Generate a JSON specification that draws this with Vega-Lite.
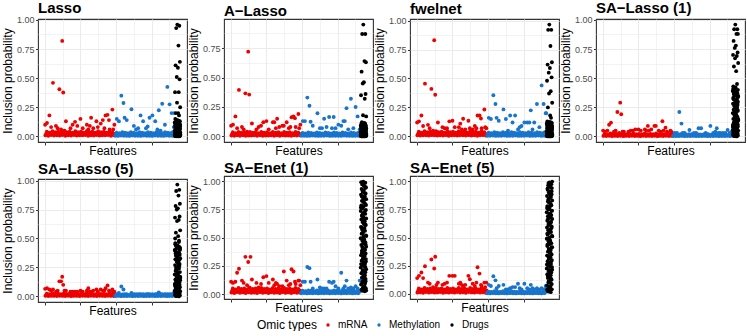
{
"$schema":"https://vega.github.io/schema/vega-lite/v6.json",
"padding":0,
"data":{"values":[
{"x":4,"t":"mRNA","a":0.01,"b":0.008,"c":0.01,"d":0.004,"e":0.005,"f":0.015,"g":0.012},
{"x":24,"t":"mRNA","a":0.006,"b":0.005,"c":0.007,"d":0.003,"e":0.003,"f":0.01,"g":0.014},
{"x":44,"t":"mRNA","a":0.012,"b":0.01,"c":0.009,"d":0.005,"e":0.004,"f":0.018,"g":0.01},
{"x":64,"t":"mRNA","a":0.008,"b":0.006,"c":0.01,"d":0.002,"e":0.004,"f":0.012,"g":0.016},
{"x":84,"t":"mRNA","a":0.01,"b":0.009,"c":0.008,"d":0.004,"e":0.003,"f":0.016,"g":0.012},
{"x":104,"t":"mRNA","a":0.007,"b":0.006,"c":0.011,"d":0.003,"e":0.005,"f":0.011,"g":0.015},
{"x":124,"t":"mRNA","a":0.011,"b":0.008,"c":0.009,"d":0.005,"e":0.004,"f":0.017,"g":0.011},
{"x":144,"t":"mRNA","a":0.006,"b":0.007,"c":0.007,"d":0.002,"e":0.003,"f":0.013,"g":0.013},
{"x":164,"t":"mRNA","a":0.01,"b":0.009,"c":0.01,"d":0.004,"e":0.005,"f":0.015,"g":0.016},
{"x":184,"t":"mRNA","a":0.008,"b":0.005,"c":0.008,"d":0.003,"e":0.002,"f":0.01,"g":0.01},
{"x":204,"t":"mRNA","a":0.012,"b":0.01,"c":0.011,"d":0.005,"e":0.004,"f":0.018,"g":0.014},
{"x":224,"t":"mRNA","a":0.007,"b":0.006,"c":0.006,"d":0.003,"e":0.004,"f":0.012,"g":0.012},
{"x":244,"t":"mRNA","a":0.01,"b":0.008,"c":0.01,"d":0.004,"e":0.003,"f":0.016,"g":0.015},
{"x":264,"t":"mRNA","a":0.009,"b":0.007,"c":0.009,"d":0.002,"e":0.005,"f":0.011,"g":0.011},
{"x":284,"t":"mRNA","a":0.011,"b":0.009,"c":0.008,"d":0.005,"e":0.004,"f":0.017,"g":0.016},
{"x":304,"t":"mRNA","a":0.006,"b":0.006,"c":0.01,"d":0.003,"e":0.003,"f":0.013,"g":0.012},
{"x":324,"t":"mRNA","a":0.01,"b":0.01,"c":0.009,"d":0.004,"e":0.005,"f":0.015,"g":0.014},
{"x":344,"t":"mRNA","a":0.008,"b":0.005,"c":0.007,"d":0.003,"e":0.004,"f":0.01,"g":0.01},
{"x":364,"t":"mRNA","a":0.012,"b":0.009,"c":0.011,"d":0.005,"e":0.003,"f":0.018,"g":0.016},
{"x":384,"t":"mRNA","a":0.007,"b":0.007,"c":0.008,"d":0.002,"e":0.005,"f":0.012,"g":0.013},
{"x":404,"t":"mRNA","a":0.01,"b":0.008,"c":0.01,"d":0.004,"e":0.004,"f":0.016,"g":0.011},
{"x":424,"t":"mRNA","a":0.009,"b":0.006,"c":0.006,"d":0.003,"e":0.003,"f":0.011,"g":0.015},
{"x":444,"t":"mRNA","a":0.011,"b":0.01,"c":0.009,"d":0.005,"e":0.005,"f":0.017,"g":0.012},
{"x":464,"t":"mRNA","a":0.006,"b":0.008,"c":0.011,"d":0.003,"e":0.004,"f":0.013,"g":0.014},
{"x":484,"t":"mRNA","a":0.01,"b":0.009,"c":0.008,"d":0.004,"e":0.003,"f":0.015,"g":0.01},
{"x":9,"t":"mRNA","a":0.022,"b":0.02,"c":0.023,"d":0.012,"e":0.013,"f":0.03,"g":0.028},
{"x":29,"t":"mRNA","a":0.025,"b":0.021,"c":0.02,"d":0.011,"e":0.012,"f":0.033,"g":0.03},
{"x":49,"t":"mRNA","a":0.02,"b":0.018,"c":0.024,"d":0.013,"e":0.014,"f":0.028,"g":0.027},
{"x":69,"t":"mRNA","a":0.024,"b":0.022,"c":0.022,"d":0.012,"e":0.012,"f":0.032,"g":0.031},
{"x":89,"t":"mRNA","a":0.021,"b":0.019,"c":0.021,"d":0.011,"e":0.013,"f":0.029,"g":0.026},
{"x":109,"t":"mRNA","a":0.023,"b":0.02,"c":0.025,"d":0.013,"e":0.014,"f":0.031,"g":0.029},
{"x":129,"t":"mRNA","a":0.022,"b":0.021,"c":0.02,"d":0.012,"e":0.012,"f":0.03,"g":0.03},
{"x":149,"t":"mRNA","a":0.025,"b":0.018,"c":0.023,"d":0.011,"e":0.013,"f":0.033,"g":0.027},
{"x":169,"t":"mRNA","a":0.02,"b":0.022,"c":0.022,"d":0.013,"e":0.014,"f":0.028,"g":0.031},
{"x":189,"t":"mRNA","a":0.024,"b":0.019,"c":0.024,"d":0.012,"e":0.012,"f":0.032,"g":0.028},
{"x":209,"t":"mRNA","a":0.021,"b":0.02,"c":0.021,"d":0.011,"e":0.013,"f":0.029,"g":0.03},
{"x":229,"t":"mRNA","a":0.023,"b":0.021,"c":0.025,"d":0.013,"e":0.014,"f":0.031,"g":0.026},
{"x":249,"t":"mRNA","a":0.022,"b":0.018,"c":0.02,"d":0.012,"e":0.012,"f":0.03,"g":0.029},
{"x":269,"t":"mRNA","a":0.025,"b":0.022,"c":0.023,"d":0.011,"e":0.013,"f":0.033,"g":0.031},
{"x":289,"t":"mRNA","a":0.02,"b":0.019,"c":0.022,"d":0.013,"e":0.014,"f":0.028,"g":0.027},
{"x":309,"t":"mRNA","a":0.024,"b":0.02,"c":0.024,"d":0.012,"e":0.012,"f":0.032,"g":0.03},
{"x":329,"t":"mRNA","a":0.021,"b":0.021,"c":0.021,"d":0.011,"e":0.013,"f":0.029,"g":0.028},
{"x":349,"t":"mRNA","a":0.023,"b":0.018,"c":0.025,"d":0.013,"e":0.014,"f":0.031,"g":0.031},
{"x":369,"t":"mRNA","a":0.022,"b":0.022,"c":0.02,"d":0.012,"e":0.012,"f":0.03,"g":0.026},
{"x":389,"t":"mRNA","a":0.025,"b":0.019,"c":0.023,"d":0.011,"e":0.013,"f":0.033,"g":0.029},
{"x":409,"t":"mRNA","a":0.02,"b":0.02,"c":0.022,"d":0.013,"e":0.014,"f":0.028,"g":0.03},
{"x":429,"t":"mRNA","a":0.024,"b":0.021,"c":0.024,"d":0.012,"e":0.012,"f":0.032,"g":0.027},
{"x":449,"t":"mRNA","a":0.021,"b":0.018,"c":0.021,"d":0.011,"e":0.013,"f":0.029,"g":0.031},
{"x":469,"t":"mRNA","a":0.023,"b":0.022,"c":0.025,"d":0.013,"e":0.014,"f":0.031,"g":0.028},
{"x":489,"t":"mRNA","a":0.022,"b":0.019,"c":0.02,"d":0.012,"e":0.012,"f":0.03,"g":0.03},
{"x":14,"t":"mRNA","a":0.04,"b":0.035,"c":0.04,"d":0.022,"e":0.024,"f":0.05,"g":0.048},
{"x":34,"t":"mRNA","a":0.032,"b":0.028,"c":0.033,"d":0.018,"e":0.02,"f":0.042,"g":0.04},
{"x":54,"t":"mRNA","a":0.045,"b":0.038,"c":0.044,"d":0.025,"e":0.027,"f":0.055,"g":0.052},
{"x":74,"t":"mRNA","a":0.036,"b":0.032,"c":0.036,"d":0.02,"e":0.022,"f":0.046,"g":0.044},
{"x":94,"t":"mRNA","a":0.04,"b":0.035,"c":0.04,"d":0.022,"e":0.024,"f":0.05,"g":0.048},
{"x":114,"t":"mRNA","a":0.032,"b":0.028,"c":0.033,"d":0.018,"e":0.02,"f":0.042,"g":0.04},
{"x":134,"t":"mRNA","a":0.045,"b":0.038,"c":0.044,"d":0.025,"e":0.027,"f":0.055,"g":0.052},
{"x":154,"t":"mRNA","a":0.036,"b":0.032,"c":0.036,"d":0.02,"e":0.022,"f":0.046,"g":0.044},
{"x":174,"t":"mRNA","a":0.04,"b":0.035,"c":0.04,"d":0.022,"e":0.024,"f":0.05,"g":0.048},
{"x":194,"t":"mRNA","a":0.032,"b":0.028,"c":0.033,"d":0.018,"e":0.02,"f":0.042,"g":0.04},
{"x":214,"t":"mRNA","a":0.045,"b":0.038,"c":0.044,"d":0.025,"e":0.027,"f":0.055,"g":0.052},
{"x":234,"t":"mRNA","a":0.036,"b":0.032,"c":0.036,"d":0.02,"e":0.022,"f":0.046,"g":0.044},
{"x":254,"t":"mRNA","a":0.04,"b":0.035,"c":0.04,"d":0.022,"e":0.024,"f":0.05,"g":0.048},
{"x":274,"t":"mRNA","a":0.032,"b":0.028,"c":0.033,"d":0.018,"e":0.02,"f":0.042,"g":0.04},
{"x":294,"t":"mRNA","a":0.045,"b":0.038,"c":0.044,"d":0.025,"e":0.027,"f":0.055,"g":0.052},
{"x":314,"t":"mRNA","a":0.036,"b":0.032,"c":0.036,"d":0.02,"e":0.022,"f":0.046,"g":0.044},
{"x":334,"t":"mRNA","a":0.04,"b":0.035,"c":0.04,"d":0.022,"e":0.024,"f":0.05,"g":0.048},
{"x":354,"t":"mRNA","a":0.032,"b":0.028,"c":0.033,"d":0.018,"e":0.02,"f":0.042,"g":0.04},
{"x":374,"t":"mRNA","a":0.045,"b":0.038,"c":0.044,"d":0.025,"e":0.027,"f":0.055,"g":0.052},
{"x":394,"t":"mRNA","a":0.036,"b":0.032,"c":0.036,"d":0.02,"e":0.022,"f":0.046,"g":0.044},
{"x":414,"t":"mRNA","a":0.04,"b":0.035,"c":0.04,"d":0.022,"e":0.024,"f":0.05,"g":0.048},
{"x":434,"t":"mRNA","a":0.032,"b":0.028,"c":0.033,"d":0.018,"e":0.02,"f":0.042,"g":0.04},
{"x":454,"t":"mRNA","a":0.045,"b":0.038,"c":0.044,"d":0.025,"e":0.027,"f":0.055,"g":0.052},
{"x":474,"t":"mRNA","a":0.036,"b":0.032,"c":0.036,"d":0.02,"e":0.022,"f":0.046,"g":0.044},
{"x":122,"t":"mRNA","a":0.82,"b":0.72,"c":0.83,"d":0.29,"e":0.17,"f":0.285,"g":0.225},
{"x":57,"t":"mRNA","a":0.46,"b":0.395,"c":0.455,"d":0.118,"e":0.06,"f":0.225,"g":0.245},
{"x":102,"t":"mRNA","a":0.405,"b":0.366,"c":0.41,"d":0.21,"e":0.13,"f":0.33,"g":0.305},
{"x":129,"t":"mRNA","a":0.377,"b":0.355,"c":0.36,"d":0.19,"e":0.1,"f":0.06,"g":0.33},
{"x":138,"t":"mRNA","a":0.05,"b":0.03,"c":0.04,"d":0.04,"e":0.05,"f":0.33,"g":0.08},
{"x":114,"t":"mRNA","a":0.06,"b":0.04,"c":0.05,"d":0.03,"e":0.13,"f":0.08,"g":0.06},
{"x":32,"t":"mRNA","a":0.18,"b":0.17,"c":0.18,"d":0.05,"e":0.06,"f":0.11,"g":0.19},
{"x":2,"t":"mRNA","a":0.1,"b":0.09,"c":0.12,"d":0.05,"e":0.065,"f":0.11,"g":0.14},
{"x":15,"t":"mRNA","a":0.115,"b":0.1,"c":0.13,"d":0.04,"e":0.07,"f":0.1,"g":0.16},
{"x":44,"t":"mRNA","a":0.08,"b":0.07,"c":0.09,"d":0.1,"e":0.05,"f":0.19,"g":0.14},
{"x":148,"t":"mRNA","a":0.13,"b":0.11,"c":0.12,"d":0.04,"e":0.05,"f":0.13,"g":0.1},
{"x":212,"t":"mRNA","a":0.125,"b":0.09,"c":0.07,"d":0.05,"e":0.04,"f":0.09,"g":0.1},
{"x":228,"t":"mRNA","a":0.09,"b":0.12,"c":0.13,"d":0.06,"e":0.04,"f":0.15,"g":0.16},
{"x":250,"t":"mRNA","a":0.15,"b":0.13,"c":0.135,"d":0.06,"e":0.05,"f":0.16,"g":0.16},
{"x":266,"t":"mRNA","a":0.07,"b":0.06,"c":0.08,"d":0.05,"e":0.04,"f":0.1,"g":0.16},
{"x":295,"t":"mRNA","a":0.1,"b":0.12,"c":0.08,"d":0.06,"e":0.05,"f":0.13,"g":0.09},
{"x":305,"t":"mRNA","a":0.06,"b":0.12,"c":0.11,"d":0.05,"e":0.07,"f":0.08,"g":0.1},
{"x":316,"t":"mRNA","a":0.09,"b":0.07,"c":0.06,"d":0.09,"e":0.04,"f":0.1,"g":0.08},
{"x":325,"t":"mRNA","a":0.16,"b":0.15,"c":0.152,"d":0.05,"e":0.04,"f":0.09,"g":0.07},
{"x":362,"t":"mRNA","a":0.13,"b":0.09,"c":0.135,"d":0.09,"e":0.06,"f":0.07,"g":0.16},
{"x":372,"t":"mRNA","a":0.08,"b":0.09,"c":0.07,"d":0.09,"e":0.04,"f":0.2,"g":0.13},
{"x":392,"t":"mRNA","a":0.11,"b":0.12,"c":0.06,"d":0.05,"e":0.06,"f":0.12,"g":0.09},
{"x":407,"t":"mRNA","a":0.14,"b":0.07,"c":0.09,"d":0.04,"e":0.05,"f":0.08,"g":0.07},
{"x":418,"t":"mRNA","a":0.07,"b":0.08,"c":0.07,"d":0.13,"e":0.05,"f":0.09,"g":0.1},
{"x":426,"t":"mRNA","a":0.18,"b":0.163,"c":0.18,"d":0.05,"e":0.07,"f":0.22,"g":0.237},
{"x":440,"t":"mRNA","a":0.185,"b":0.17,"c":0.18,"d":0.075,"e":0.095,"f":0.2,"g":0.18},
{"x":450,"t":"mRNA","a":0.14,"b":0.155,"c":0.155,"d":0.04,"e":0.05,"f":0.11,"g":0.08},
{"x":474,"t":"mRNA","a":0.23,"b":0.19,"c":0.232,"d":0.05,"e":0.06,"f":0.12,"g":0.1},
{"x":455,"t":"mRNA","a":0.06,"b":0.08,"c":0.07,"d":0.03,"e":0.04,"f":0.09,"g":0.07},
{"x":78,"t":"mRNA","a":0.09,"b":0.08,"c":0.1,"d":0.04,"e":0.04,"f":0.12,"g":0.1},
{"x":90,"t":"mRNA","a":0.07,"b":0.06,"c":0.07,"d":0.05,"e":0.05,"f":0.1,"g":0.09},
{"x":180,"t":"mRNA","a":0.07,"b":0.06,"c":0.08,"d":0.04,"e":0.04,"f":0.1,"g":0.08},
{"x":195,"t":"mRNA","a":0.1,"b":0.08,"c":0.07,"d":0.05,"e":0.04,"f":0.06,"g":0.09},
{"x":340,"t":"mRNA","a":0.07,"b":0.08,"c":0.06,"d":0.06,"e":0.05,"f":0.07,"g":0.08},
{"x":480,"t":"mRNA","a":0.06,"b":0.07,"c":0.08,"d":0.04,"e":0.04,"f":0.12,"g":0.06},
{"x":488,"t":"mRNA","a":0.1,"b":0.1,"c":0.07,"d":0.03,"e":0.04,"f":0.08,"g":0.1},
{"x":494,"t":"Methylation","a":0.006,"b":0.005,"c":0.006,"d":0.003,"e":0.003,"f":0.008,"g":0.005},
{"x":514,"t":"Methylation","a":0.004,"b":0.006,"c":0.005,"d":0.002,"e":0.004,"f":0.01,"g":0.004},
{"x":534,"t":"Methylation","a":0.007,"b":0.004,"c":0.007,"d":0.003,"e":0.002,"f":0.007,"g":0.006},
{"x":554,"t":"Methylation","a":0.005,"b":0.005,"c":0.004,"d":0.004,"e":0.003,"f":0.009,"g":0.005},
{"x":574,"t":"Methylation","a":0.006,"b":0.007,"c":0.006,"d":0.002,"e":0.003,"f":0.008,"g":0.004},
{"x":594,"t":"Methylation","a":0.004,"b":0.005,"c":0.005,"d":0.003,"e":0.004,"f":0.01,"g":0.006},
{"x":614,"t":"Methylation","a":0.007,"b":0.004,"c":0.007,"d":0.003,"e":0.002,"f":0.007,"g":0.005},
{"x":634,"t":"Methylation","a":0.005,"b":0.006,"c":0.004,"d":0.004,"e":0.003,"f":0.009,"g":0.004},
{"x":654,"t":"Methylation","a":0.006,"b":0.005,"c":0.006,"d":0.002,"e":0.003,"f":0.008,"g":0.006},
{"x":674,"t":"Methylation","a":0.004,"b":0.007,"c":0.005,"d":0.003,"e":0.004,"f":0.01,"g":0.005},
{"x":694,"t":"Methylation","a":0.007,"b":0.004,"c":0.007,"d":0.003,"e":0.002,"f":0.007,"g":0.004},
{"x":714,"t":"Methylation","a":0.005,"b":0.005,"c":0.004,"d":0.004,"e":0.003,"f":0.009,"g":0.006},
{"x":734,"t":"Methylation","a":0.006,"b":0.006,"c":0.006,"d":0.002,"e":0.003,"f":0.008,"g":0.005},
{"x":754,"t":"Methylation","a":0.004,"b":0.005,"c":0.005,"d":0.003,"e":0.004,"f":0.01,"g":0.004},
{"x":774,"t":"Methylation","a":0.007,"b":0.004,"c":0.007,"d":0.003,"e":0.002,"f":0.007,"g":0.006},
{"x":794,"t":"Methylation","a":0.005,"b":0.007,"c":0.004,"d":0.004,"e":0.003,"f":0.009,"g":0.005},
{"x":814,"t":"Methylation","a":0.006,"b":0.005,"c":0.006,"d":0.002,"e":0.003,"f":0.008,"g":0.004},
{"x":834,"t":"Methylation","a":0.004,"b":0.006,"c":0.005,"d":0.003,"e":0.004,"f":0.01,"g":0.006},
{"x":854,"t":"Methylation","a":0.007,"b":0.004,"c":0.007,"d":0.003,"e":0.002,"f":0.007,"g":0.005},
{"x":874,"t":"Methylation","a":0.005,"b":0.005,"c":0.004,"d":0.004,"e":0.003,"f":0.009,"g":0.004},
{"x":894,"t":"Methylation","a":0.006,"b":0.006,"c":0.006,"d":0.002,"e":0.003,"f":0.008,"g":0.006},
{"x":499,"t":"Methylation","a":0.018,"b":0.016,"c":0.018,"d":0.009,"e":0.008,"f":0.018,"g":0.012},
{"x":519,"t":"Methylation","a":0.02,"b":0.018,"c":0.016,"d":0.01,"e":0.009,"f":0.02,"g":0.013},
{"x":539,"t":"Methylation","a":0.016,"b":0.017,"c":0.019,"d":0.008,"e":0.008,"f":0.017,"g":0.011},
{"x":559,"t":"Methylation","a":0.019,"b":0.015,"c":0.017,"d":0.009,"e":0.009,"f":0.019,"g":0.012},
{"x":579,"t":"Methylation","a":0.017,"b":0.018,"c":0.018,"d":0.01,"e":0.008,"f":0.018,"g":0.013},
{"x":599,"t":"Methylation","a":0.018,"b":0.016,"c":0.02,"d":0.009,"e":0.009,"f":0.016,"g":0.011},
{"x":619,"t":"Methylation","a":0.02,"b":0.017,"c":0.016,"d":0.008,"e":0.008,"f":0.02,"g":0.012},
{"x":639,"t":"Methylation","a":0.016,"b":0.015,"c":0.018,"d":0.009,"e":0.009,"f":0.018,"g":0.013},
{"x":659,"t":"Methylation","a":0.019,"b":0.018,"c":0.017,"d":0.01,"e":0.008,"f":0.017,"g":0.011},
{"x":679,"t":"Methylation","a":0.017,"b":0.016,"c":0.019,"d":0.009,"e":0.009,"f":0.019,"g":0.012},
{"x":699,"t":"Methylation","a":0.018,"b":0.017,"c":0.018,"d":0.008,"e":0.008,"f":0.018,"g":0.013},
{"x":719,"t":"Methylation","a":0.02,"b":0.015,"c":0.02,"d":0.009,"e":0.009,"f":0.016,"g":0.011},
{"x":739,"t":"Methylation","a":0.016,"b":0.018,"c":0.016,"d":0.01,"e":0.008,"f":0.02,"g":0.012},
{"x":759,"t":"Methylation","a":0.019,"b":0.016,"c":0.018,"d":0.009,"e":0.009,"f":0.018,"g":0.013},
{"x":779,"t":"Methylation","a":0.017,"b":0.017,"c":0.017,"d":0.008,"e":0.008,"f":0.017,"g":0.011},
{"x":799,"t":"Methylation","a":0.018,"b":0.015,"c":0.019,"d":0.009,"e":0.009,"f":0.019,"g":0.012},
{"x":819,"t":"Methylation","a":0.02,"b":0.018,"c":0.018,"d":0.01,"e":0.008,"f":0.018,"g":0.013},
{"x":839,"t":"Methylation","a":0.016,"b":0.016,"c":0.02,"d":0.009,"e":0.009,"f":0.016,"g":0.011},
{"x":859,"t":"Methylation","a":0.019,"b":0.017,"c":0.016,"d":0.008,"e":0.008,"f":0.02,"g":0.012},
{"x":879,"t":"Methylation","a":0.017,"b":0.015,"c":0.018,"d":0.009,"e":0.009,"f":0.018,"g":0.013},
{"x":899,"t":"Methylation","a":0.018,"b":0.018,"c":0.017,"d":0.01,"e":0.008,"f":0.017,"g":0.011},
{"x":504,"t":"Methylation","a":0.032,"b":0.03,"c":0.032,"d":0.016,"e":0.015,"f":0.03,"g":0.02},
{"x":524,"t":"Methylation","a":0.028,"b":0.026,"c":0.028,"d":0.014,"e":0.013,"f":0.026,"g":0.018},
{"x":544,"t":"Methylation","a":0.036,"b":0.034,"c":0.036,"d":0.018,"e":0.016,"f":0.034,"g":0.023},
{"x":564,"t":"Methylation","a":0.032,"b":0.03,"c":0.032,"d":0.016,"e":0.015,"f":0.03,"g":0.02},
{"x":584,"t":"Methylation","a":0.028,"b":0.026,"c":0.028,"d":0.014,"e":0.013,"f":0.026,"g":0.018},
{"x":604,"t":"Methylation","a":0.036,"b":0.034,"c":0.036,"d":0.018,"e":0.016,"f":0.034,"g":0.023},
{"x":624,"t":"Methylation","a":0.032,"b":0.03,"c":0.032,"d":0.016,"e":0.015,"f":0.03,"g":0.02},
{"x":644,"t":"Methylation","a":0.028,"b":0.026,"c":0.028,"d":0.014,"e":0.013,"f":0.026,"g":0.018},
{"x":664,"t":"Methylation","a":0.036,"b":0.034,"c":0.036,"d":0.018,"e":0.016,"f":0.034,"g":0.023},
{"x":684,"t":"Methylation","a":0.032,"b":0.03,"c":0.032,"d":0.016,"e":0.015,"f":0.03,"g":0.02},
{"x":704,"t":"Methylation","a":0.028,"b":0.026,"c":0.028,"d":0.014,"e":0.013,"f":0.026,"g":0.018},
{"x":724,"t":"Methylation","a":0.036,"b":0.034,"c":0.036,"d":0.018,"e":0.016,"f":0.034,"g":0.023},
{"x":744,"t":"Methylation","a":0.032,"b":0.03,"c":0.032,"d":0.016,"e":0.015,"f":0.03,"g":0.02},
{"x":764,"t":"Methylation","a":0.028,"b":0.026,"c":0.028,"d":0.014,"e":0.013,"f":0.026,"g":0.018},
{"x":784,"t":"Methylation","a":0.036,"b":0.034,"c":0.036,"d":0.018,"e":0.016,"f":0.034,"g":0.023},
{"x":804,"t":"Methylation","a":0.032,"b":0.03,"c":0.032,"d":0.016,"e":0.015,"f":0.03,"g":0.02},
{"x":824,"t":"Methylation","a":0.028,"b":0.026,"c":0.028,"d":0.014,"e":0.013,"f":0.026,"g":0.018},
{"x":844,"t":"Methylation","a":0.036,"b":0.034,"c":0.036,"d":0.018,"e":0.016,"f":0.034,"g":0.023},
{"x":864,"t":"Methylation","a":0.032,"b":0.03,"c":0.032,"d":0.016,"e":0.015,"f":0.03,"g":0.02},
{"x":884,"t":"Methylation","a":0.028,"b":0.026,"c":0.028,"d":0.014,"e":0.013,"f":0.026,"g":0.018},
{"x":898,"t":"Methylation","a":0.036,"b":0.034,"c":0.036,"d":0.018,"e":0.016,"f":0.034,"g":0.023},
{"x":537,"t":"Methylation","a":0.35,"b":0.33,"c":0.355,"d":0.21,"e":0.085,"f":0.24,"g":0.157},
{"x":552,"t":"Methylation","a":0.287,"b":0.26,"c":0.28,"d":0.11,"e":0.06,"f":0.23,"g":0.12},
{"x":608,"t":"Methylation","a":0.233,"b":0.197,"c":0.233,"d":0.055,"e":0.03,"f":0.13,"g":0.08},
{"x":505,"t":"Methylation","a":0.15,"b":0.13,"c":0.16,"d":0.03,"e":0.02,"f":0.11,"g":0.08},
{"x":520,"t":"Methylation","a":0.13,"b":0.13,"c":0.15,"d":0.03,"e":0.03,"f":0.11,"g":0.07},
{"x":560,"t":"Methylation","a":0.16,"b":0.125,"c":0.16,"d":0.03,"e":0.02,"f":0.11,"g":0.05},
{"x":575,"t":"Methylation","a":0.14,"b":0.09,"c":0.135,"d":0.03,"e":0.02,"f":0.05,"g":0.07},
{"x":625,"t":"Methylation","a":0.09,"b":0.07,"c":0.15,"d":0.02,"e":0.02,"f":0.06,"g":0.04},
{"x":655,"t":"Methylation","a":0.07,"b":0.15,"c":0.18,"d":0.03,"e":0.02,"f":0.05,"g":0.05},
{"x":672,"t":"Methylation","a":0.18,"b":0.08,"c":0.12,"d":0.07,"e":0.02,"f":0.05,"g":0.06},
{"x":690,"t":"Methylation","a":0.13,"b":0.165,"c":0.18,"d":0.07,"e":0.02,"f":0.11,"g":0.06},
{"x":722,"t":"Methylation","a":0.085,"b":0.165,"c":0.08,"d":0.03,"e":0.02,"f":0.11,"g":0.05},
{"x":735,"t":"Methylation","a":0.16,"b":0.07,"c":0.09,"d":0.02,"e":0.02,"f":0.07,"g":0.04},
{"x":755,"t":"Methylation","a":0.18,"b":0.1,"c":0.12,"d":0.09,"e":0.02,"f":0.05,"g":0.09},
{"x":775,"t":"Methylation","a":0.13,"b":0.09,"c":0.12,"d":0.03,"e":0.02,"f":0.19,"g":0.05},
{"x":800,"t":"Methylation","a":0.225,"b":0.13,"c":0.225,"d":0.07,"e":0.035,"f":0.07,"g":0.08},
{"x":812,"t":"Methylation","a":0.05,"b":0.24,"c":0.06,"d":0.03,"e":0.02,"f":0.12,"g":0.05},
{"x":824,"t":"Methylation","a":0.28,"b":0.06,"c":0.12,"d":0.03,"e":0.02,"f":0.05,"g":0.04},
{"x":843,"t":"Methylation","a":0.1,"b":0.32,"c":0.28,"d":0.03,"e":0.02,"f":0.06,"g":0.05},
{"x":860,"t":"Methylation","a":0.425,"b":0.07,"c":0.08,"d":0.03,"e":0.02,"f":0.05,"g":0.04},
{"x":876,"t":"Methylation","a":0.275,"b":0.25,"c":0.44,"d":0.055,"e":0.02,"f":0.07,"g":0.05},
{"x":890,"t":"Methylation","a":0.2,"b":0.17,"c":0.28,"d":0.03,"e":0.02,"f":0.05,"g":0.04},
{"x":905,"t":"Methylation","a":0.08,"b":0.06,"c":0.2,"d":0.04,"e":0.03,"f":0.12,"g":0.07},
{"x":908,"t":"Methylation","a":0.2,"b":0.05,"c":0.2,"d":0.03,"e":0.02,"f":0.12,"g":0.06},
{"x":640,"t":"Methylation","a":0.06,"b":0.07,"c":0.05,"d":0.03,"e":0.02,"f":0.05,"g":0.04},
{"x":710,"t":"Methylation","a":0.07,"b":0.07,"c":0.06,"d":0.02,"e":0.02,"f":0.1,"g":0.09},
{"x":790,"t":"Methylation","a":0.06,"b":0.13,"c":0.12,"d":0.04,"e":0.02,"f":0.05,"g":0.04},
{"x":930,"t":"Drugs","a":0.96,"b":0.95,"c":0.965,"d":0.96,"e":0.965,"f":0.995,"g":0.99},
{"x":944,"t":"Drugs","a":0.95,"b":0.87,"c":0.92,"d":0.92,"e":0.92,"f":0.985,"g":0.975},
{"x":922,"t":"Drugs","a":0.93,"b":0.87,"c":0.92,"d":0.92,"e":0.91,"f":0.97,"g":0.965},
{"x":938,"t":"Drugs","a":0.78,"b":0.64,"c":0.78,"d":0.88,"e":0.87,"f":0.955,"g":0.95},
{"x":948,"t":"Drugs","a":0.64,"b":0.63,"c":0.64,"d":0.88,"e":0.8,"f":0.945,"g":0.94},
{"x":918,"t":"Drugs","a":0.61,"b":0.55,"c":0.62,"d":0.82,"e":0.78,"f":0.93,"g":0.925},
{"x":934,"t":"Drugs","a":0.59,"b":0.46,"c":0.59,"d":0.78,"e":0.76,"f":0.92,"g":0.91},
{"x":926,"t":"Drugs","a":0.51,"b":0.45,"c":0.55,"d":0.76,"e":0.75,"f":0.905,"g":0.9},
{"x":946,"t":"Drugs","a":0.49,"b":0.36,"c":0.51,"d":0.72,"e":0.69,"f":0.89,"g":0.885},
{"x":914,"t":"Drugs","a":0.38,"b":0.35,"c":0.48,"d":0.7,"e":0.68,"f":0.88,"g":0.87},
{"x":940,"t":"Drugs","a":0.38,"b":0.32,"c":0.39,"d":0.69,"e":0.66,"f":0.865,"g":0.86},
{"x":928,"t":"Drugs","a":0.29,"b":0.18,"c":0.37,"d":0.67,"e":0.65,"f":0.85,"g":0.845},
{"x":950,"t":"Drugs","a":0.25,"b":0.17,"c":0.29,"d":0.63,"e":0.57,"f":0.84,"g":0.83},
{"x":920,"t":"Drugs","a":0.2,"b":0.12,"c":0.25,"d":0.6,"e":0.55,"f":0.825,"g":0.82},
{"x":936,"t":"Drugs","a":0.2,"b":0.115,"c":0.18,"d":0.56,"e":0.52,"f":0.81,"g":0.805},
{"x":942,"t":"Drugs","a":0.18,"b":0.11,"c":0.16,"d":0.45,"e":0.48,"f":0.8,"g":0.79},
{"x":916,"t":"Drugs","a":0.15,"b":0.105,"c":0.13,"d":0.43,"e":0.46,"f":0.785,"g":0.78},
{"x":932,"t":"Drugs","a":0.14,"b":0.1,"c":0.125,"d":0.42,"e":0.44,"f":0.775,"g":0.765},
{"x":924,"t":"Drugs","a":0.14,"b":0.095,"c":0.12,"d":0.41,"e":0.43,"f":0.76,"g":0.75},
{"x":948,"t":"Drugs","a":0.13,"b":0.09,"c":0.115,"d":0.4,"e":0.41,"f":0.745,"g":0.74},
{"x":912,"t":"Drugs","a":0.12,"b":0.09,"c":0.11,"d":0.39,"e":0.4,"f":0.735,"g":0.725},
{"x":936,"t":"Drugs","a":0.12,"b":0.085,"c":0.105,"d":0.38,"e":0.38,"f":0.72,"g":0.715},
{"x":944,"t":"Drugs","a":0.11,"b":0.08,"c":0.1,"d":0.37,"e":0.37,"f":0.71,"g":0.7},
{"x":920,"t":"Drugs","a":0.11,"b":0.08,"c":0.095,"d":0.36,"e":0.35,"f":0.695,"g":0.69},
{"x":930,"t":"Drugs","a":0.1,"b":0.075,"c":0.09,"d":0.35,"e":0.34,"f":0.685,"g":0.675},
{"x":950,"t":"Drugs","a":0.1,"b":0.07,"c":0.09,"d":0.34,"e":0.33,"f":0.67,"g":0.665},
{"x":916,"t":"Drugs","a":0.095,"b":0.07,"c":0.085,"d":0.33,"e":0.32,"f":0.66,"g":0.65},
{"x":940,"t":"Drugs","a":0.09,"b":0.065,"c":0.08,"d":0.32,"e":0.31,"f":0.645,"g":0.64},
{"x":926,"t":"Drugs","a":0.09,"b":0.06,"c":0.08,"d":0.31,"e":0.3,"f":0.635,"g":0.625},
{"x":934,"t":"Drugs","a":0.085,"b":0.06,"c":0.075,"d":0.3,"e":0.29,"f":0.62,"g":0.615},
{"x":946,"t":"Drugs","a":0.08,"b":0.055,"c":0.07,"d":0.29,"e":0.28,"f":0.61,"g":0.6},
{"x":914,"t":"Drugs","a":0.08,"b":0.055,"c":0.07,"d":0.28,"e":0.27,"f":0.595,"g":0.59},
{"x":938,"t":"Drugs","a":0.075,"b":0.05,"c":0.065,"d":0.27,"e":0.26,"f":0.585,"g":0.575},
{"x":922,"t":"Drugs","a":0.07,"b":0.05,"c":0.06,"d":0.26,"e":0.25,"f":0.57,"g":0.565},
{"x":942,"t":"Drugs","a":0.07,"b":0.045,"c":0.06,"d":0.25,"e":0.24,"f":0.56,"g":0.55},
{"x":928,"t":"Drugs","a":0.065,"b":0.045,"c":0.055,"d":0.24,"e":0.23,"f":0.545,"g":0.54},
{"x":918,"t":"Drugs","a":0.06,"b":0.04,"c":0.05,"d":0.23,"e":0.22,"f":0.535,"g":0.525},
{"x":948,"t":"Drugs","a":0.06,"b":0.04,"c":0.05,"d":0.22,"e":0.21,"f":0.52,"g":0.515},
{"x":932,"t":"Drugs","a":0.055,"b":0.035,"c":0.045,"d":0.21,"e":0.2,"f":0.51,"g":0.5},
{"x":912,"t":"Drugs","a":0.05,"b":0.035,"c":0.045,"d":0.2,"e":0.19,"f":0.495,"g":0.49},
{"x":936,"t":"Drugs","a":0.05,"b":0.03,"c":0.04,"d":0.19,"e":0.18,"f":0.485,"g":0.475},
{"x":924,"t":"Drugs","a":0.045,"b":0.03,"c":0.04,"d":0.18,"e":0.17,"f":0.47,"g":0.465},
{"x":944,"t":"Drugs","a":0.045,"b":0.03,"c":0.035,"d":0.17,"e":0.165,"f":0.46,"g":0.45},
{"x":930,"t":"Drugs","a":0.04,"b":0.025,"c":0.035,"d":0.16,"e":0.155,"f":0.445,"g":0.44},
{"x":916,"t":"Drugs","a":0.04,"b":0.025,"c":0.03,"d":0.15,"e":0.145,"f":0.435,"g":0.425},
{"x":950,"t":"Drugs","a":0.035,"b":0.025,"c":0.03,"d":0.14,"e":0.14,"f":0.42,"g":0.415},
{"x":926,"t":"Drugs","a":0.035,"b":0.02,"c":0.03,"d":0.13,"e":0.13,"f":0.41,"g":0.4},
{"x":940,"t":"Drugs","a":0.03,"b":0.02,"c":0.025,"d":0.125,"e":0.12,"f":0.395,"g":0.39},
{"x":920,"t":"Drugs","a":0.03,"b":0.02,"c":0.025,"d":0.12,"e":0.115,"f":0.385,"g":0.375},
{"x":934,"t":"Drugs","a":0.03,"b":0.02,"c":0.02,"d":0.11,"e":0.11,"f":0.37,"g":0.365},
{"x":946,"t":"Drugs","a":0.025,"b":0.015,"c":0.02,"d":0.105,"e":0.1,"f":0.36,"g":0.35},
{"x":914,"t":"Drugs","a":0.025,"b":0.015,"c":0.02,"d":0.1,"e":0.095,"f":0.345,"g":0.34},
{"x":938,"t":"Drugs","a":0.025,"b":0.015,"c":0.015,"d":0.095,"e":0.09,"f":0.335,"g":0.325},
{"x":928,"t":"Drugs","a":0.02,"b":0.015,"c":0.015,"d":0.09,"e":0.085,"f":0.32,"g":0.315},
{"x":948,"t":"Drugs","a":0.02,"b":0.01,"c":0.015,"d":0.085,"e":0.08,"f":0.31,"g":0.3},
{"x":918,"t":"Drugs","a":0.02,"b":0.01,"c":0.015,"d":0.08,"e":0.075,"f":0.295,"g":0.29},
{"x":932,"t":"Drugs","a":0.02,"b":0.01,"c":0.01,"d":0.075,"e":0.07,"f":0.285,"g":0.275},
{"x":942,"t":"Drugs","a":0.015,"b":0.01,"c":0.01,"d":0.07,"e":0.065,"f":0.27,"g":0.265},
{"x":922,"t":"Drugs","a":0.015,"b":0.01,"c":0.01,"d":0.065,"e":0.06,"f":0.26,"g":0.25},
{"x":936,"t":"Drugs","a":0.015,"b":0.008,"c":0.01,"d":0.06,"e":0.055,"f":0.245,"g":0.24},
{"x":912,"t":"Drugs","a":0.015,"b":0.008,"c":0.008,"d":0.055,"e":0.05,"f":0.235,"g":0.225},
{"x":950,"t":"Drugs","a":0.01,"b":0.008,"c":0.008,"d":0.05,"e":0.045,"f":0.22,"g":0.215},
{"x":926,"t":"Drugs","a":0.01,"b":0.006,"c":0.008,"d":0.045,"e":0.04,"f":0.21,"g":0.2},
{"x":944,"t":"Drugs","a":0.01,"b":0.006,"c":0.006,"d":0.04,"e":0.04,"f":0.195,"g":0.19},
{"x":916,"t":"Drugs","a":0.01,"b":0.006,"c":0.006,"d":0.035,"e":0.035,"f":0.185,"g":0.175},
{"x":940,"t":"Drugs","a":0.01,"b":0.005,"c":0.006,"d":0.03,"e":0.03,"f":0.17,"g":0.165},
{"x":930,"t":"Drugs","a":0.008,"b":0.005,"c":0.005,"d":0.03,"e":0.03,"f":0.16,"g":0.15},
{"x":920,"t":"Drugs","a":0.008,"b":0.005,"c":0.005,"d":0.025,"e":0.025,"f":0.145,"g":0.14},
{"x":946,"t":"Drugs","a":0.006,"b":0.004,"c":0.005,"d":0.025,"e":0.025,"f":0.135,"g":0.125},
{"x":934,"t":"Drugs","a":0.006,"b":0.004,"c":0.004,"d":0.02,"e":0.02,"f":0.12,"g":0.115},
{"x":924,"t":"Drugs","a":0.005,"b":0.004,"c":0.004,"d":0.02,"e":0.02,"f":0.11,"g":0.1},
{"x":942,"t":"Drugs","a":0.005,"b":0.003,"c":0.003,"d":0.015,"e":0.015,"f":0.095,"g":0.09},
{"x":914,"t":"Drugs","a":0.004,"b":0.003,"c":0.003,"d":0.015,"e":0.015,"f":0.085,"g":0.075},
{"x":938,"t":"Drugs","a":0.004,"b":0.002,"c":0.002,"d":0.01,"e":0.01,"f":0.07,"g":0.065},
{"x":928,"t":"Drugs","a":0.003,"b":0.002,"c":0.002,"d":0.01,"e":0.01,"f":0.06,"g":0.05},
{"x":948,"t":"Drugs","a":0.003,"b":0.002,"c":0.002,"d":0.008,"e":0.008,"f":0.05,"g":0.04},
{"x":918,"t":"Drugs","a":0.002,"b":0.001,"c":0.001,"d":0.006,"e":0.006,"f":0.04,"g":0.03},
{"x":932,"t":"Drugs","a":0.002,"b":0.001,"c":0.001,"d":0.004,"e":0.004,"f":0.035,"g":0.025},
{"x":922,"t":"Drugs","a":0.001,"b":0,"c":0.001,"d":0.002,"e":0.002,"f":0.03,"g":0.02},
{"x":940,"t":"Drugs","a":0,"b":0,"c":0,"d":0,"e":0,"f":0.025,"g":0.015},
{"x":915,"t":"Drugs","a":0.12,"b":0.09,"c":0.11,"d":0.41,"e":0.5,"f":0.99,"g":0.04},
{"x":933,"t":"Drugs","a":0.02,"b":0.015,"c":0.025,"d":0.05,"e":0.06,"f":0.962,"g":0.062},
{"x":947,"t":"Drugs","a":0.07,"b":0.05,"c":0.06,"d":0.3,"e":0.36,"f":0.94,"g":0.087},
{"x":925,"t":"Drugs","a":0.01,"b":0.008,"c":0.012,"d":0.12,"e":0.14,"f":0.913,"g":0.11},
{"x":941,"t":"Drugs","a":0.1,"b":0.075,"c":0.09,"d":0.38,"e":0.47,"f":0.892,"g":0.137},
{"x":919,"t":"Drugs","a":0.03,"b":0.02,"c":0.035,"d":0.02,"e":0.03,"f":0.864,"g":0.16},
{"x":937,"t":"Drugs","a":0.05,"b":0.035,"c":0.045,"d":0.25,"e":0.3,"f":0.842,"g":0.186},
{"x":929,"t":"Drugs","a":0.015,"b":0.01,"c":0.02,"d":0.18,"e":0.2,"f":0.816,"g":0.213},
{"x":949,"t":"Drugs","a":0.09,"b":0.07,"c":0.08,"d":0.35,"e":0.42,"f":0.788,"g":0.238},
{"x":913,"t":"Drugs","a":0.005,"b":0.004,"c":0.006,"d":0.08,"e":0.1,"f":0.767,"g":0.262},
{"x":943,"t":"Drugs","a":0.13,"b":0.1,"c":0.12,"d":0.22,"e":0.26,"f":0.739,"g":0.289},
{"x":927,"t":"Drugs","a":0.04,"b":0.03,"c":0.04,"d":0.15,"e":0.17,"f":0.713,"g":0.312},
{"x":921,"t":"Drugs","a":0.06,"b":0.045,"c":0.055,"d":0.4,"e":0.44,"f":0.692,"g":0.338},
{"x":939,"t":"Drugs","a":0.025,"b":0.02,"c":0.03,"d":0.06,"e":0.08,"f":0.664,"g":0.363},
{"x":931,"t":"Drugs","a":0.08,"b":0.06,"c":0.07,"d":0.28,"e":0.33,"f":0.641,"g":0.39},
{"x":945,"t":"Drugs","a":0.01,"b":0.007,"c":0.01,"d":0.1,"e":0.12,"f":0.617,"g":0.412},
{"x":917,"t":"Drugs","a":0.11,"b":0.08,"c":0.1,"d":0.33,"e":0.39,"f":0.588,"g":0.437},
{"x":935,"t":"Drugs","a":0.035,"b":0.025,"c":0.03,"d":0.04,"e":0.05,"f":0.566,"g":0.463},
{"x":923,"t":"Drugs","a":0.055,"b":0.04,"c":0.05,"d":0.2,"e":0.23,"f":0.538,"g":0.488},
{"x":951,"t":"Drugs","a":0.02,"b":0.012,"c":0.015,"d":0.14,"e":0.16,"f":0.514,"g":0.512},
{"x":916,"t":"Drugs","a":0.115,"b":0.085,"c":0.1,"d":0.39,"e":0.45,"f":0.489,"g":0.536},
{"x":934,"t":"Drugs","a":0.015,"b":0.01,"c":0.012,"d":0.07,"e":0.09,"f":0.466,"g":0.561},
{"x":946,"t":"Drugs","a":0.065,"b":0.05,"c":0.06,"d":0.27,"e":0.32,"f":0.441,"g":0.588},
{"x":924,"t":"Drugs","a":0.008,"b":0.006,"c":0.008,"d":0.11,"e":0.13,"f":0.413,"g":0.612},
{"x":942,"t":"Drugs","a":0.095,"b":0.07,"c":0.085,"d":0.36,"e":0.43,"f":0.392,"g":0.637},
{"x":920,"t":"Drugs","a":0.03,"b":0.02,"c":0.03,"d":0.03,"e":0.04,"f":0.364,"g":0.663},
{"x":938,"t":"Drugs","a":0.045,"b":0.035,"c":0.04,"d":0.24,"e":0.28,"f":0.341,"g":0.688},
{"x":930,"t":"Drugs","a":0.012,"b":0.01,"c":0.015,"d":0.17,"e":0.19,"f":0.317,"g":0.711},
{"x":948,"t":"Drugs","a":0.085,"b":0.065,"c":0.075,"d":0.34,"e":0.4,"f":0.289,"g":0.738},
{"x":914,"t":"Drugs","a":0.006,"b":0.005,"c":0.005,"d":0.09,"e":0.11,"f":0.266,"g":0.763},
{"x":944,"t":"Drugs","a":0.125,"b":0.095,"c":0.115,"d":0.23,"e":0.27,"f":0.24,"g":0.788},
{"x":928,"t":"Drugs","a":0.038,"b":0.028,"c":0.035,"d":0.16,"e":0.18,"f":0.213,"g":0.812},
{"x":922,"t":"Drugs","a":0.058,"b":0.042,"c":0.052,"d":0.37,"e":0.41,"f":0.191,"g":0.837},
{"x":940,"t":"Drugs","a":0.022,"b":0.016,"c":0.022,"d":0.05,"e":0.07,"f":0.163,"g":0.863},
{"x":932,"t":"Drugs","a":0.075,"b":0.055,"c":0.065,"d":0.29,"e":0.35,"f":0.142,"g":0.887},
{"x":946,"t":"Drugs","a":0.012,"b":0.009,"c":0.01,"d":0.13,"e":0.15,"f":0.114,"g":0.912},
{"x":918,"t":"Drugs","a":0.105,"b":0.08,"c":0.095,"d":0.32,"e":0.37,"f":0.09,"g":0.938},
{"x":936,"t":"Drugs","a":0.032,"b":0.022,"c":0.028,"d":0.045,"e":0.055,"f":0.066,"g":0.961},
{"x":924,"t":"Drugs","a":0.052,"b":0.038,"c":0.048,"d":0.21,"e":0.24,"f":0.047,"g":0.985},
{"x":950,"t":"Drugs","a":0.018,"b":0.012,"c":0.016,"d":0.15,"e":0.17,"f":0.032,"g":0.998}
]},
"transform":[{"fold":["a","b","c","d","e","f","g"],"as":["m","y"]}],
"facet":{"field":"m","type":"nominal","sort":["a","b","c","d","e","f","g"],
 "header":{"title":null,"labelExpr":"['Lasso','A−Lasso','fwelnet','SA−Lasso (1)','SA−Lasso (5)','SA−Enet (1)','SA−Enet (5)'][indexof('abcdefg', datum.value)]",
  "labelFontSize":15,"labelFontWeight":"bold","labelAnchor":"start","labelColor":"#000000","labelPadding":0,"labelFont":"Liberation Sans"}},
"columns":4,
"spacing":{"row":2,"column":-2},
"spec":{
 "width":149,"height":123,
 "mark":{"type":"circle","size":15,"opacity":1},
 "encoding":{
  "x":{"field":"x","type":"quantitative","scale":{"domain":[-48,998],"nice":false,"zero":false},
   "axis":{"title":"Features","values":[0,125,250,375,500,625,750,875],"labels":false,"domain":false,"tickSize":3,
    "tickColor":{"condition":{"test":"datum.value % 250 != 0","value":"transparent"},"value":"#333333"},
    "gridWidth":{"condition":{"test":"datum.value % 250 != 0","value":0.6},"value":1.1},
    "titlePadding":0,"minExtent":0}},
  "y":{"field":"y","type":"quantitative","scale":{"zero":false,"nice":false,"padding":5.6},
   "axis":{"title":"Inclusion probability","values":[0,0.125,0.25,0.375,0.5,0.625,0.75,0.875,1],"format":".2f","domain":false,
    "labelExpr":"(datum.value*4)%1==0 ? datum.label : ''","tickSize":2.5,
    "tickColor":{"condition":{"test":"(datum.value*4)%1!=0","value":"transparent"},"value":"#333333"},
    "gridWidth":{"condition":{"test":"(datum.value*4)%1!=0","value":0.6},"value":1.1},
    "titlePadding":2,"labelPadding":1.5,"minExtent":0}},
  "color":{"field":"t","type":"nominal","scale":{"domain":["mRNA","Methylation","Drugs"],"range":["#EE0000","#1874CD","#000000"]},
   "legend":{"title":"Omic types","orient":"bottom","direction":"horizontal","titleOrient":"left","titleBaseline":"middle","offset":2}}
 }},
"resolve":{"scale":{"y":"independent"},"axis":{"x":"independent","y":"independent"}},
"config":{
 "font":"Liberation Sans",
 "view":{"stroke":"#333333","strokeWidth":1.1},
 "axis":{"labelFontSize":9,"labelColor":"#4D4D4D","labelFont":"Liberation Sans","titleFontSize":12,"titleFontWeight":"normal","titleColor":"#000000","titleFont":"Liberation Sans","gridColor":"#EBEBEB","minExtent":0},
 "legend":{"titleFontSize":12,"titleFontWeight":"normal","titleColor":"#000000","labelFontSize":10,"labelColor":"#000000","symbolSize":11,"symbolType":"circle","columnPadding":6,"labelOffset":5,"titlePadding":5,"layout":{"bottom":{"anchor":"middle"}}}
}
}
